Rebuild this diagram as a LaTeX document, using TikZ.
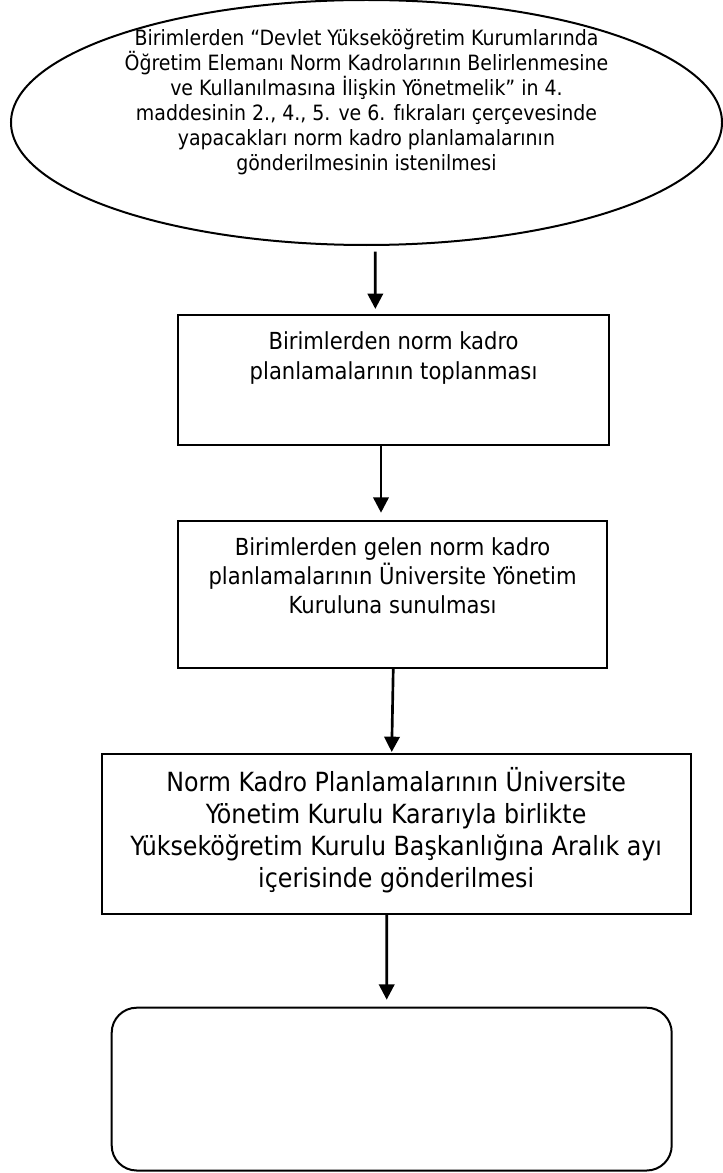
\documentclass[tikz,border=0pt]{standalone}
\usepackage{fontspec}
\setmainfont{DejaVu Sans Condensed}
\usepackage{tikz}
\usetikzlibrary{shapes.geometric,arrows.meta}

\tikzset{
  cerceve/.style={draw, line width=1.5, inner sep=0pt, outer sep=0pt},
  okucu/.style={-{Triangle[length=11.5pt,width=11.5pt]}, line width=2},
  yazi/.style={inner sep=0.75pt, align=center},
}

\begin{document}
\begin{tikzpicture}[x=0.75pt,y=0.75pt,yscale=-1,xscale=1]
			%set diagram left start at 0, and has height of 1173
			\useasboundingbox (0,0) rectangle (723,1173);
			
			%Shape: Ellipse [id:dp2174408836105127] 
			\node [cerceve, ellipse, minimum width=533.25pt, minimum height=183.75pt] (baslangic) at (366.5,122.5) {};
			%Shape: Rectangle [id:dp6601835329473118] 
			\node [cerceve, rectangle, minimum width=323pt, minimum height=97.9pt] (toplama) at (393.6,380.2) {};
			%Shape: Rectangle [id:dp4412897501274016] 
			\node [cerceve, rectangle, minimum width=321.5pt, minimum height=110.1pt] (sunma) at (392.6,594.1) {};
			%Shape: Rectangle [id:dp8839201655930347] 
			\node [cerceve, rectangle, minimum width=441.75pt, minimum height=120pt] (gonderme) at (396.2,834) {};
			%Rounded Rect [id:dp3092715548816243] 
			\node [cerceve, rectangle, rounded corners=18.75pt, minimum width=420pt, minimum height=122.1pt] (bitis) at (391.7,1089.1) {};
			
			% Text Node
			\node [yazi, font=\fontsize{15.8}{18.75}\selectfont] (baslangicyazi) at (366.5,101.5) {Birimlerden “Devlet Yükseköğretim Kurumlarında\\Öğretim Elemanı Norm Kadrolarının Belirlenmesine\\ve Kullanılmasına İlişkin Yönetmelik” in 4.\\maddesinin 2., 4., 5. ve 6. fıkraları çerçevesinde\\yapacakları norm kadro planlamalarının\\gönderilmesinin istenilmesi};
			% Text Node
			\node [yazi, font=\fontsize{17.6}{22}\selectfont] (toplamayazi) at (393.6,358) {Birimlerden norm kadro\\planlamalarının toplanması};
			% Text Node
			\node [yazi, font=\fontsize{17.6}{21.75}\selectfont] (sunmayazi) at (392.6,576) {Birimlerden gelen norm kadro\\planlamalarının Üniversite Yönetim\\Kuruluna sunulması};
			% Text Node
			\node [yazi, font=\fontsize{19.8}{24}\selectfont] (gondermeyazi) at (396.2,830) {Norm Kadro Planlamalarının Üniversite\\Yönetim Kurulu Kararıyla birlikte\\Yükseköğretim Kurulu Başkanlığına Aralık ayı\\içerisinde gönderilmesi};
			
			%Straight Lines [id:da5148032207671846] 
			\draw [okucu, shorten <=5pt, shorten >=4.5pt] ([xshift=6.6pt]baslangic.south) -- ([xshift=-13.7pt]toplama.north) ;
			%Straight Lines [id:da9902775236410213] 
			\draw [okucu, shorten >=6pt] ([xshift=-9.45pt]toplama.south) -- ([xshift=-8.7pt]sunma.north) ;
			%Straight Lines [id:da1790648255613019] 
			\draw [okucu, shorten >=1.5pt] ([xshift=0.5pt]sunma.south) -- ([xshift=-3.4pt]gonderme.north) ;
			%Straight Lines [id:da7347610908921457] 
			\draw [okucu, shorten >=6pt] ([xshift=-7.1pt]gonderme.south) -- ([xshift=-3.75pt]bitis.north) ;
		\end{tikzpicture}
\end{document}
